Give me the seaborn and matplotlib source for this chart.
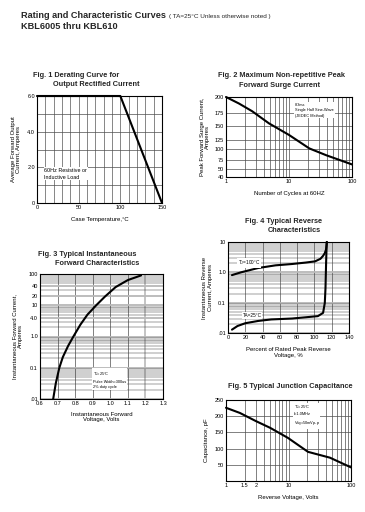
import numpy as np
import matplotlib
matplotlib.use("Agg")
import matplotlib.pyplot as plt
import seaborn as sns

sns.set_theme(style="white")
plt.rcParams['font.family'] = ['Liberation Sans', 'DejaVu Sans']
plt.rcParams['mathtext.fontset'] = 'custom'
plt.rcParams['mathtext.rm'] = 'Liberation Sans'

# ---------------- data ----------------
# Fig 1 derating
derate_temp = [0, 100, 150]
derate_amps = [6.0, 6.0, 0.0]

# Fig 2 surge current
surge_cycles = [1, 1.6, 2.6, 4.8, 10, 21, 39, 100]
surge_amps = [200, 190, 178, 155, 134, 101, 85, 62]
surge_ticks = [40, 50, 75, 100, 125, 150, 175, 200]
surge_tick_pos = [0, 0.101, 0.218, 0.353, 0.462, 0.639, 0.798, 1.0]  # where the sheet draws them

# Fig 3 forward characteristics
fwd_volts = [0.675, 0.69, 0.71, 0.73, 0.76, 0.79, 0.83, 0.87, 0.92, 0.97, 1.03, 1.10, 1.175]
fwd_amps = [0.01, 0.032, 0.1, 0.22, 0.5, 1.0, 2.4, 5.0, 10, 19, 38, 64, 90]
fwd_yticks = [100, 40, 20, 10, 4, 1, 0.1, 0.01]
fwd_ylabels = ["100", "40", "20", "10", "4.0", "1.0", "0.1", ".01"]
fwd_xticks = [0.6, 0.7, 0.8, 0.9, 1.0, 1.1, 1.2, 1.3]

# Fig 4 reverse characteristics
hot_pct = [4.6, 15, 35, 55, 74, 90, 100.7, 107, 110, 112, 113.4, 114.5]
hot_amps = [0.81, 1.0, 1.39, 1.7, 1.88, 2.1, 2.3, 2.8, 3.5, 4.3, 5.6, 10]
cold_pct = [4.6, 11, 20, 35, 50, 74, 90, 104, 110, 112, 112.8, 113.5, 114.2]
cold_amps = [0.0129, 0.017, 0.021, 0.025, 0.028, 0.030, 0.033, 0.036, 0.046, 0.098, 0.3, 2.0, 10]
rev_yticks = [10, 1, 0.1, 0.01]
rev_ylabels = ["10", "1.0", "0.1", ".01"]

# Fig 5 junction capacitance
cap_volts = [1, 1.67, 3, 5.1, 9.8, 20.5, 46, 100]
cap_pf = [226, 210, 185, 164, 133, 90, 72, 42]
cap_xticks = [1, 2, 3, 10, 100]
cap_xlabels = ["1", "1.5", "2", "10", "100"]
cap_yticks = [50, 100, 150, 200, 250]

W, H = 365, 512
fig = plt.figure(figsize=(W / 100, H / 100), dpi=100)


def rect(l, t, r, b):
    return [l / W, 1 - b / H, (r - l) / W, (b - t) / H]


def px(x, y):
    return x / W, 1 - y / H


def style(ax):
    for s in ax.spines.values():
        s.set_color("black")
        s.set_linewidth(0.8)
    ax.tick_params(labelsize=4, length=0, pad=1.5, colors="black", which="both")


lab = dict(fontsize=4.3, color="black")
box = dict(facecolor="white", edgecolor="none", pad=0.6)
note = dict(fontsize=2.8, color="black", linespacing=1.5)
curve = dict(color="black", lw=1.5, clip_on=False)

# header
fig.text(*px(21, 18), "Rating and Characteristic Curves", fontsize=6.6, fontweight="bold", va="baseline")
fig.text(*px(169, 18), "( TA=25°C Unless otherwise noted )", fontsize=4.6, va="baseline")
fig.text(*px(21, 29), "KBL6005 thru KBL610", fontsize=6.6, fontweight="bold", va="baseline")

tt = dict(fontsize=5.3, fontweight="bold", va="baseline")

# ---------------- Fig 1 ----------------
ax1 = fig.add_axes(rect(37, 96, 162, 203))
for v in range(10, 150, 10):
    ax1.axvline(v, color="0.45", lw=0.6, zorder=0)
for v in range(1, 6):
    ax1.axhline(v, color="0.3", lw=0.5, zorder=0)
sns.lineplot(x=derate_temp, y=derate_amps, ax=ax1, **curve)
ax1.set_xlim(0, 150)
ax1.set_ylim(0, 6)
ax1.set_xticks([0, 50, 100, 150])
ax1.set_yticks([0, 2, 4, 6])
ax1.set_yticklabels(["0", "2.0", "4.0", "6.0"])
ax1.set_xlabel("Case Temperature,°C", labelpad=5, **lab)
ax1.set_ylabel("Average Forward Output\nCurrent, Amperes", labelpad=4, **lab)
ax1.text(9, 1.65, "60Hz Resistive or\nInductive Load", va="center", bbox=box,
         fontsize=3.9, color="black", linespacing=1.5)
style(ax1)
fig.text(*px(33, 77), "Fig. 1 Derating Curve for", **tt)
fig.text(*px(53, 86), "Output Rectified Current", **tt)

# ---------------- Fig 2 ----------------
ax2 = fig.add_axes(rect(226, 97, 352, 177))
ax2.set_xscale("log")
ax2.set_yscale("function", functions=(lambda v: np.interp(v, surge_ticks, surge_tick_pos),
                                       lambda f: np.interp(f, surge_tick_pos, surge_ticks)))
ax2.grid(True, which="both", axis="x", color="0.3", lw=0.5)
for v in surge_ticks[1:-1]:
    ax2.axhline(v, color="0.3", lw=0.5, zorder=0)
sns.lineplot(x=surge_cycles, y=surge_amps, ax=ax2, **curve)
ax2.set_xlim(1, 100)
ax2.set_ylim(40, 200)
ax2.set_yticks(surge_ticks)
ax2.set_xticks([1, 10, 100])
ax2.set_xticklabels(["1", "10", "100"])
ax2.xaxis.set_minor_formatter(plt.NullFormatter())
ax2.set_xlabel("Number of Cycles at 60HZ", labelpad=5, **lab)
ax2.set_ylabel("Peak Forward Surge Current,\nAmperes", labelpad=3, **lab)
ax2.text(0.55, 0.93, "8.3ms\nSingle Half Sine-Wave\n(JEDEC Method)", transform=ax2.transAxes,
         va="top", bbox=box, **note)
style(ax2)
fig.text(*px(218, 77), "Fig. 2 Maximum Non-repetitive Peak", **tt)
fig.text(*px(239, 87), "Forward Surge Current", **tt)

# ---------------- Fig 3 ----------------
ax3 = fig.add_axes(rect(40, 274, 163, 399))
ax3.set_yscale("log")
ax3.grid(True, which="minor", axis="y", color="0.25", lw=0.35)
ax3.grid(True, which="major", axis="y", color="0.72", lw=1.3)
for v in fwd_xticks[1:-1]:
    is_grey = abs(v - 1.2) < 1e-6
    ax3.axvline(v, color="0.75" if is_grey else "0.3", lw=1.3 if is_grey else 0.5, zorder=0)
sns.lineplot(x=fwd_volts, y=fwd_amps, ax=ax3, **curve)
ax3.set_xlim(0.6, 1.3)
ax3.set_ylim(0.01, 100)
ax3.set_xticks(fwd_xticks)
ax3.set_xticklabels([f"{v:.1f}" for v in fwd_xticks])
ax3.set_yticks(fwd_yticks)
ax3.set_yticklabels(fwd_ylabels)
ax3.yaxis.set_minor_formatter(plt.NullFormatter())
ax3.set_xlabel("Instantaneous Forward\nVoltage, Volts", labelpad=4, **lab)
ax3.set_ylabel("Instantaneous Forward Current,\nAmperes", labelpad=4, **lab)
ax3.text(0.43, 0.225, "T$_\\mathrm{J}$=25°C\nPulse Width=300us\n2% duty cycle", transform=ax3.transAxes,
         va="top", bbox=box, **note)
style(ax3)
fig.text(*px(38, 256), "Fig. 3 Typical Instantaneous", **tt)
fig.text(*px(55, 265), "Forward Characteristics", **tt)

# ---------------- Fig 4 ----------------
ax4 = fig.add_axes(rect(228, 242, 349, 333))
ax4.set_yscale("log")
ax4.grid(True, which="minor", axis="y", color="0.25", lw=0.35)
ax4.grid(True, which="major", axis="y", color="0.72", lw=1.3)
for v in range(20, 140, 20):
    ax4.axvline(v, color="0.35", lw=0.5, zorder=0)
sns.lineplot(x=hot_pct, y=hot_amps, ax=ax4, **curve)
sns.lineplot(x=cold_pct, y=cold_amps, ax=ax4, **curve)
ax4.set_xlim(0, 140)
ax4.set_ylim(0.01, 10)
ax4.set_xticks(range(0, 141, 20))
ax4.set_yticks(rev_yticks)
ax4.set_yticklabels(rev_ylabels)
ax4.yaxis.set_minor_formatter(plt.NullFormatter())
ax4.set_xlabel("Percent of Rated Peak Reverse\nVoltage, %", labelpad=5, **lab)
ax4.set_ylabel("Instantaneous Reverse\nCurrent, Amperes", labelpad=4, **lab)
ax4.text(0.08, 0.77, "T$_\\mathrm{J}$=100°C", transform=ax4.transAxes, va="center", bbox=box,
         fontsize=3.4, color="black")
ax4.text(0.12, 0.19, "TA=25°C", transform=ax4.transAxes, va="center", bbox=box,
         fontsize=3.4, color="black")
style(ax4)
fig.text(*px(245, 223), "Fig. 4 Typical Reverse", **tt)
fig.text(*px(268, 232), "Characteristics", **tt)

# ---------------- Fig 5 ----------------
ax5 = fig.add_axes(rect(226, 400, 351, 481))
ax5.set_xscale("log")
ax5.grid(True, which="both", axis="x", color="0.3", lw=0.5)
for v in cap_yticks[:-1]:
    ax5.axhline(v, color="0.3", lw=0.5, zorder=0)
sns.lineplot(x=cap_volts, y=cap_pf, ax=ax5, **curve)
ax5.set_xlim(1, 100)
ax5.set_ylim(0, 250)
ax5.set_xticks(cap_xticks)
ax5.set_xticklabels(cap_xlabels)
ax5.xaxis.set_minor_formatter(plt.NullFormatter())
ax5.set_yticks(cap_yticks)
ax5.set_xlabel("Reverse Voltage, Volts", labelpad=5, **lab)
ax5.set_ylabel("Capacitance, pF", labelpad=4, **lab)
ax5.text(0.54, 0.96, "T$_\\mathrm{J}$=25°C\nf=1.0MHz\nV$_\\mathrm{sig}$=50mVp-p", transform=ax5.transAxes,
         va="top", bbox=box, **note)
style(ax5)
fig.text(*px(228, 388), "Fig. 5 Typical Junction Capacitance", **tt)

fig.savefig("out.png", dpi=100)
